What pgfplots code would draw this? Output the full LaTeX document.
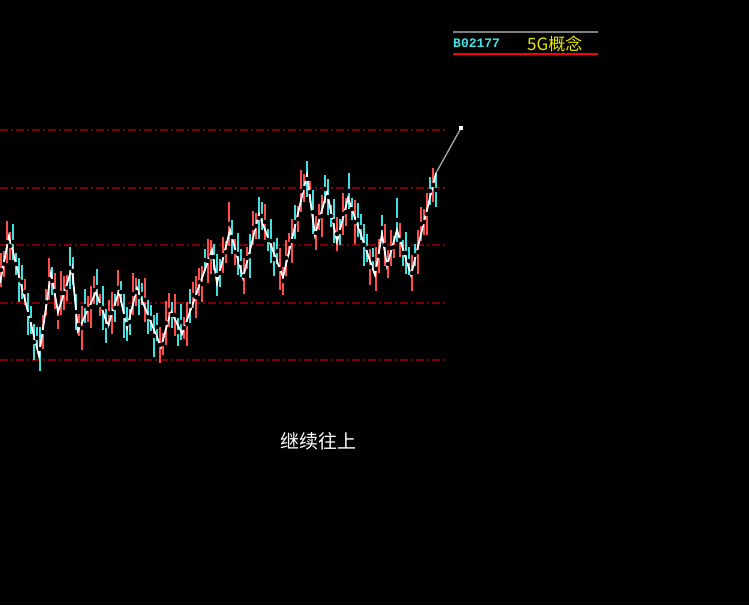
\documentclass[border=0pt]{standalone}
\usepackage{fontspec}
\setmainfont{Liberation Sans}
\newfontfamily\cjk{Noto Sans CJK SC}
\newfontfamily\monof{Liberation Mono}
\usepackage{pgfplots}
\pgfplotsset{compat=1.18}

\definecolor{upred}{RGB}{255,76,76}
\definecolor{dncyan}{RGB}{64,224,224}
\definecolor{gridred}{RGB}{125,0,0}
\definecolor{hdrcyan}{RGB}{64,230,230}
\definecolor{hdryellow}{RGB}{230,230,0}

\pgfplotsset{
  barset/.style={only marks, mark=none, error bars/.cd, y dir=both, y explicit, error mark=none,
    error bar style={line width=2.2pt, draw=#1}},
  level/.style={gridred, line width=1.3pt, dash pattern=on 8pt off 3pt on 2pt off 3pt},
}

\begin{document}
\begin{tikzpicture}
\useasboundingbox (0,0) rectangle (749pt,605pt);
\fill[black] (0,0) rectangle (749pt,605pt);
\begin{axis}[
  at={(0,0)}, anchor=south west,
  scale only axis,
  width=749pt, height=605pt,
  xmin=0, xmax=749, ymin=0, ymax=605,
  y dir=reverse,
  hide axis,
  clip=true,
]
% horizontal reference levels
\addplot[level] coordinates {(0,130) (446,130)};
\addplot[level] coordinates {(0,188) (446,188)};
\addplot[level] coordinates {(0,245) (446,245)};
\addplot[level] coordinates {(0,303) (446,303)};
\addplot[level] coordinates {(0,360) (446,360)};

% up bars
\addplot[barset=upred] coordinates {
(1,270) +- (0,17) (4,264) +- (0,13) (7,242) +- (0,21) (10,246) +- (0,14)
(25,292) +- (0,13) (43,332) +- (0,17) (46,302) +- (0,13) (49,279) +- (0,21)
(55,291) +- (0,18) (58,318) +- (0,11) (61,293) +- (0,22) (64,293) +- (0,17)
(67,288) +- (0,13) (79,325) +- (0,11) (82,328) +- (0,22) (88,309) +- (0,13)
(91,307) +- (0,21) (94,290) +- (0,14) (100,305) +- (0,11) (109,313) +- (0,13)
(112,313) +- (0,21) (118,288) +- (0,18) (133,294) +- (0,21) (136,292) +- (0,14)
(145,300) +- (0,22) (160,345) +- (0,18) (163,344) +- (0,11) (166,323) +- (0,22)
(169,310) +- (0,17) (175,315) +- (0,21) (184,328) +- (0,11) (187,324) +- (0,22)
(193,295) +- (0,13) (196,297) +- (0,21) (199,282) +- (0,14) (202,284) +- (0,18)
(208,261) +- (0,22) (211,257) +- (0,17) (223,255) +- (0,18) (226,252) +- (0,11)
(229,224) +- (0,22) (235,252) +- (0,13) (244,276) +- (0,18) (247,258) +- (0,11)
(253,228) +- (0,17) (256,226) +- (0,13) (265,222) +- (0,18) (280,269) +- (0,21)
(283,281) +- (0,14) (286,258) +- (0,18) (289,244) +- (0,11) (292,241) +- (0,22)
(298,219) +- (0,13) (301,191) +- (0,21) (304,188) +- (0,14) (310,192) +- (0,11)
(316,233) +- (0,17) (319,217) +- (0,13) (322,216) +- (0,21) (337,234) +- (0,17)
(343,214) +- (0,21) (346,212) +- (0,14) (355,222) +- (0,22) (370,267) +- (0,18)
(376,269) +- (0,22) (379,256) +- (0,17) (385,245) +- (0,21) (388,264) +- (0,14)
(391,248) +- (0,18) (394,247) +- (0,11) (400,240) +- (0,17) (412,273) +- (0,18)
(418,252) +- (0,22) (421,224) +- (0,17) (424,222) +- (0,13) (427,214) +- (0,21)
(433,185) +- (0,17)
};

% down bars
\addplot[barset=dncyan] coordinates {
(13,242) +- (0,18) (16,264) +- (0,11) (19,280) +- (0,22) (22,282) +- (0,17)
(28,314) +- (0,21) (31,320) +- (0,14) (34,342) +- (0,18) (37,338) +- (0,11)
(40,349) +- (0,22) (52,281) +- (0,14) (70,268) +- (0,21) (73,271) +- (0,14)
(76,312) +- (0,18) (85,306) +- (0,17) (97,287) +- (0,18) (103,308) +- (0,22)
(106,326) +- (0,17) (115,308) +- (0,14) (121,292) +- (0,11) (124,316) +- (0,22)
(127,324) +- (0,17) (130,322) +- (0,13) (139,297) +- (0,18) (142,294) +- (0,11)
(148,317) +- (0,17) (151,318) +- (0,13) (154,336) +- (0,21) (157,327) +- (0,14)
(172,315) +- (0,13) (178,332) +- (0,14) (181,322) +- (0,18) (190,306) +- (0,17)
(205,260) +- (0,11) (214,257) +- (0,13) (217,275) +- (0,21) (220,273) +- (0,14)
(232,237) +- (0,17) (238,254) +- (0,21) (241,263) +- (0,14) (250,256) +- (0,22)
(259,218) +- (0,21) (262,216) +- (0,14) (268,240) +- (0,11) (271,241) +- (0,22)
(274,259) +- (0,17) (277,251) +- (0,13) (295,222) +- (0,17) (307,179) +- (0,18)
(313,212) +- (0,22) (325,189) +- (0,14) (328,197) +- (0,18) (331,216) +- (0,11)
(334,221) +- (0,22) (340,232) +- (0,13) (349,191) +- (0,18) (352,209) +- (0,11)
(358,220) +- (0,17) (361,227) +- (0,13) (364,245) +- (0,21) (367,248) +- (0,14)
(373,259) +- (0,11) (382,228) +- (0,13) (397,220) +- (0,22) (403,253) +- (0,13)
(406,253) +- (0,21) (409,261) +- (0,14) (415,255) +- (0,11) (430,191) +- (0,14)
(436,190) +- (0,17)
};

% zigzag line
\addplot[white, line width=1.8pt, line join=miter] coordinates {
(0,283) (9,236) (39,356) (51,273) (58,312) (72,268) (78,331) (96,292)
(108,326) (119,291) (127,328) (137,288) (161,347) (171,311) (182,334)
(212,250) (217,283) (230,230) (243,278) (259,214) (283,277) (307,175)
(315,235) (327,192) (337,242) (348,198) (375,275) (382,234) (387,266)
(397,230) (411,275) (436,173)
};

% projection to target
\addplot[gray!70!white, line width=1.3pt, mark=square*, mark indices={2},
  mark options={fill=white, draw=white, scale=0.8}] coordinates {(436,173) (461,128)};

% header
\draw[gray, line width=1.2pt] (axis cs:453,32) -- (axis cs:598,32);
\draw[red, line width=1.5pt] (axis cs:453,54) -- (axis cs:598,54);
\node[anchor=west, inner sep=0pt, text=hdrcyan, font=\monof\bfseries\fontsize{13}{13}\selectfont] at (axis cs:453,43) {B02177};
\node[anchor=west, inner sep=0pt, text=hdryellow, font=\cjk\fontsize{17}{17}\selectfont] at (axis cs:527,44) {5G概念};

\node[inner sep=0pt, text=white, font=\cjk\fontsize{19}{19}\selectfont] at (axis cs:318,441) {继续往上};
\end{axis}
\end{tikzpicture}
\end{document}
